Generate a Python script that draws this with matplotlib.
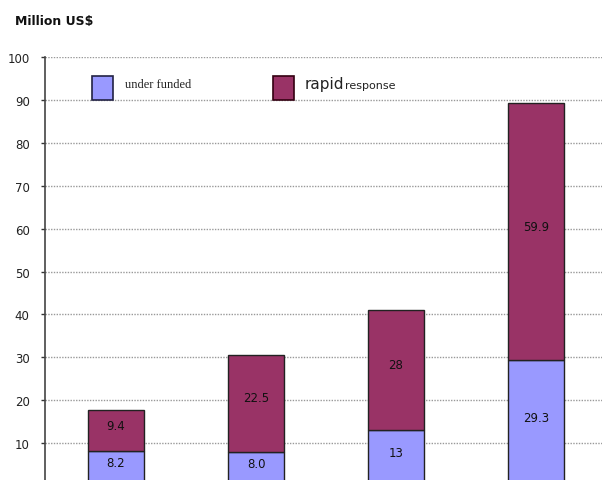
import matplotlib
matplotlib.use("Agg")
import matplotlib.pyplot as plt
from matplotlib.patches import Rectangle

# data
groups = ["1", "2", "3", "4"]
under_funded = [8.2, 8.0, 13, 29.3]
rapid_response = [9.4, 22.5, 28, 59.9]
under_labels = ["8.2", "8.0", "13", "29.3"]
rapid_labels = ["9.4", "22.5", "28", "59.9"]
y_ticks = [0, 10, 20, 30, 40, 50, 60, 70, 80, 90, 100]

c_under = "#9999FF"
c_rapid = "#993366"

fig = plt.figure(figsize=(6.02, 4.81), dpi=100)
ax = fig.add_axes([45 / 602, (481 - 487) / 481, 1 - 45 / 602, (487 - 58) / 481])

x = list(range(len(groups)))
ax.bar(x, under_funded, width=0.4, color=c_under, edgecolor="#222222", linewidth=1, zorder=3)
ax.bar(x, rapid_response, width=0.4, bottom=under_funded, color=c_rapid,
       edgecolor="#222222", linewidth=1, zorder=3)

for i in x:
    ax.annotate(under_labels[i], (i, under_funded[i] / 2), xytext=(0, 4), textcoords="offset points",
                ha="center", va="center", fontsize=8.5, color="#111111", zorder=4)
    ax.annotate(rapid_labels[i], (i, under_funded[i] + rapid_response[i] / 2), xytext=(0, 4),
                textcoords="offset points", ha="center", va="center", fontsize=8.5,
                color="#111111", zorder=4)

ax.set_ylim(0, 100)
ax.set_xlim((45 - 116) / 140, (602 - 116) / 140)
ax.set_yticks(y_ticks)
ax.set_yticklabels([str(v) for v in y_ticks], fontsize=8.5, color="#222222")
ax.tick_params(axis="y", length=3, width=1, color="#333333", pad=8)
ax.set_xticks([])
ax.grid(axis="y", color="#999999", linestyle=(0, (1, 1)), linewidth=1, zorder=0)

for s in ["top", "right", "bottom"]:
    ax.spines[s].set_visible(False)
ax.spines["left"].set_color("#444444")
ax.spines["left"].set_linewidth(1.2)

# legend drawn by hand inside the plot
fig.patches.append(Rectangle((92 / 602, 1 - 101 / 481), 21 / 602, 24 / 481, transform=fig.transFigure,
                             facecolor=c_under, edgecolor="#222244", linewidth=1.2))
fig.patches.append(Rectangle((273 / 602, 1 - 101 / 481), 21 / 602, 24 / 481, transform=fig.transFigure,
                             facecolor=c_rapid, edgecolor="#330011", linewidth=1.2))
fig.text(125 / 602, 1 - 85 / 481, "under funded", fontsize=9, family="Liberation Serif",
         color="#222222", va="center")
fig.text(305 / 602, 1 - 84 / 481, "rapid", fontsize=11, color="#222222", va="center")
fig.text(345 / 602, 1 - 86 / 481, "response", fontsize=8, color="#222222", va="center")

fig.text(15 / 602, 1 - 22 / 481, "Million US$", fontsize=9, fontweight="bold", color="#111111",
         va="center")

fig.savefig("out.png", dpi=100)
